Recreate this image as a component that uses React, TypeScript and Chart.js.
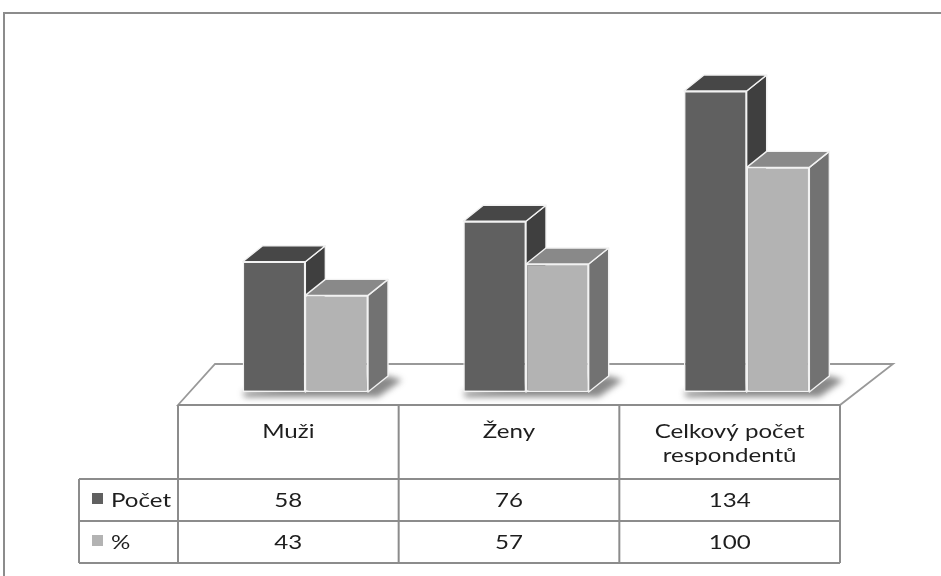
import React, { useEffect, useRef } from "react";
import { Chart, registerables } from "chart.js";

Chart.register(...registerables);

// ---- data ----
const categories: string[][] = [["Muži"], ["Ženy"], ["Celkový počet", "respondentů"]];
const seriesNames = ["Počet", "%"];
const pocet = [58, 76, 134];
const procenta = [43, 57, 100];
const tableValues = [pocet, procenta];

// ---- styles ----
const FRONT = ["#606060", "#b3b3b3"];
const TOP = ["#474747", "#898989"];
const SIDE = ["#3f3f3f", "#727272"];
const EDGE = "#f2f2f2";
const LINE = "#8c8c8c";
const FONT = "19px Lato";
const DX = 20;
const DY = 16;

const threeD = {
  id: "threeD",
  beforeDraw(chart: any) {
    const ctx = chart.ctx as CanvasRenderingContext2D;
    const ca = chart.chartArea;
    ctx.save();
    ctx.fillStyle = "#ffffff";
    ctx.fillRect(0, 0, chart.width, chart.height);
    // outer frame
    ctx.strokeStyle = LINE;
    ctx.lineWidth = 2;
    ctx.strokeRect(4, 13, chart.width + 20, chart.height + 20);
    // floor
    const tL = ca.left - 17;
    const tR = ca.right - 17;
    const fy = ca.bottom + 13;
    const by = ca.bottom - 28;
    ctx.beginPath();
    ctx.moveTo(tL, fy);
    ctx.lineTo(tL + 37, by);
    ctx.lineTo(tR + 53, by);
    ctx.lineTo(tR, fy);
    ctx.closePath();
    ctx.fillStyle = "#ffffff";
    ctx.fill();
    ctx.lineWidth = 1.8;
    ctx.strokeStyle = "#999999";
    ctx.stroke();
    ctx.restore();
  },
  beforeDatasetsDraw(chart: any) {
    const ctx = chart.ctx as CanvasRenderingContext2D;
    const m0 = chart.getDatasetMeta(0).data;
    const m1 = chart.getDatasetMeta(1).data;
    // shadows
    ctx.save();
    ctx.filter = "blur(3px)";
    ctx.fillStyle = "rgba(40,40,40,0.55)";
    for (let i = 0; i < m0.length; i++) {
      const a = m0[i];
      const b = m1[i];
      const l = a.x - a.width / 2;
      const r = b.x + b.width / 2;
      const base = a.base;
      ctx.beginPath();
      ctx.moveTo(l, base);
      ctx.lineTo(r + DX, base - DY);
      ctx.lineTo(r + DX + 14, base - DY + 4);
      ctx.lineTo(r + 10, base + 5);
      ctx.lineTo(l + 2, base + 5);
      ctx.closePath();
      ctx.fill();
    }
    ctx.restore();
    // 3D top and side faces
    ctx.save();
    ctx.strokeStyle = EDGE;
    ctx.lineWidth = 1.4;
    ctx.lineJoin = "round";
    for (let i = 0; i < m0.length; i++) {
      [m0[i], m1[i]].forEach((el: any, k: number) => {
        const l = el.x - el.width / 2;
        const r = el.x + el.width / 2;
        const y = el.y;
        const base = el.base;
        // side
        ctx.beginPath();
        ctx.moveTo(r, y);
        ctx.lineTo(r + DX, y - DY);
        ctx.lineTo(r + DX, base - DY);
        ctx.lineTo(r, base);
        ctx.closePath();
        ctx.fillStyle = SIDE[k];
        ctx.fill();
        ctx.stroke();
        // top
        ctx.beginPath();
        ctx.moveTo(l, y);
        ctx.lineTo(l + DX, y - DY);
        ctx.lineTo(r + DX, y - DY);
        ctx.lineTo(r, y);
        ctx.closePath();
        ctx.fillStyle = TOP[k];
        ctx.fill();
        ctx.stroke();
      });
    }
    ctx.restore();
  },
  afterDraw(chart: any) {
    const ctx = chart.ctx as CanvasRenderingContext2D;
    const ca = chart.chartArea;
    const tL = ca.left - 17;
    const tR = ca.right - 17;
    const colW = (tR - tL) / categories.length;
    const yHead = ca.bottom + 13;
    const yR1 = ca.bottom + 87;
    const yR2 = ca.bottom + 129;
    const yBot = ca.bottom + 171;
    const lgL = 79;
    ctx.save();
    ctx.strokeStyle = LINE;
    ctx.lineWidth = 2;
    ctx.beginPath();
    // verticals
    for (let c = 0; c <= categories.length; c++) {
      const x = tL + c * colW;
      ctx.moveTo(x, yHead);
      ctx.lineTo(x, yBot);
    }
    ctx.moveTo(lgL, yR1);
    ctx.lineTo(lgL, yBot);
    // horizontals
    ctx.moveTo(tL, yHead);
    ctx.lineTo(tR, yHead);
    [yR1, yR2, yBot].forEach((y) => {
      ctx.moveTo(lgL, y);
      ctx.lineTo(tR, y);
    });
    ctx.stroke();

    // text
    ctx.font = FONT;
    const sx = 150 / ctx.measureText("Celkový počet").width;
    ctx.fillStyle = "#1e1e1e";
    ctx.textAlign = "center";
    ctx.textBaseline = "alphabetic";
    const put = (t: string, x: number, y: number, align: CanvasTextAlign) => {
      ctx.save();
      ctx.textAlign = align;
      ctx.translate(x, y);
      ctx.scale(sx, 1);
      ctx.fillText(t, 0, 0);
      ctx.restore();
    };
    categories.forEach((lines, c) => {
      const cx = tL + (c + 0.5) * colW;
      lines.forEach((ln, j) => put(ln, cx, yHead + 33 + j * 24, "center"));
    });
    tableValues.forEach((row, r) => {
      const yb = r === 0 ? yR1 + 28 : yR2 + 28;
      row.forEach((v, c) => put(String(v), tL + (c + 0.5) * colW, yb, "center"));
    });
    // legend keys
    seriesNames.forEach((name, r) => {
      const top = r === 0 ? yR1 : yR2;
      ctx.fillStyle = FRONT[r];
      ctx.fillRect(92, top + 14, 11, 11);
      ctx.fillStyle = "#1e1e1e";
      put(name, 111, top + 28, "left");
    });
    ctx.restore();
  },
};

export default function App() {
  const ref = useRef<HTMLCanvasElement>(null);
  useEffect(() => {
    document.body.style.margin = "0";
    const k = 301 / 134;
    const yMax = 140;
    const chart = new Chart(ref.current!, {
      type: "bar",
      data: {
        labels: categories,
        datasets: [
          {
            label: seriesNames[0],
            data: pocet,
            backgroundColor: FRONT[0],
            borderColor: EDGE,
            borderWidth: 1.4,
            borderSkipped: false,
          },
          {
            label: seriesNames[1],
            data: procenta,
            backgroundColor: FRONT[1],
            borderColor: EDGE,
            borderWidth: 1.4,
            borderSkipped: false,
          },
        ],
      },
      options: {
        responsive: false,
        animation: false,
        events: [],
        layout: { padding: { left: 195, right: 84, top: 392 - yMax * k, bottom: 184 } },
        datasets: { bar: { categoryPercentage: 0.568, barPercentage: 1.0 } },
        plugins: { legend: { display: false }, tooltip: { enabled: false } },
        scales: {
          x: { display: false },
          y: { display: false, min: 0, max: yMax },
        },
      },
      plugins: [threeD],
    });
    return () => chart.destroy();
  }, []);
  return (
    <div style={{ position: "fixed", left: 0, top: 0, width: 941, height: 576, background: "#fff" }}>
      <canvas ref={ref} width={941} height={576} />
    </div>
  );
}
